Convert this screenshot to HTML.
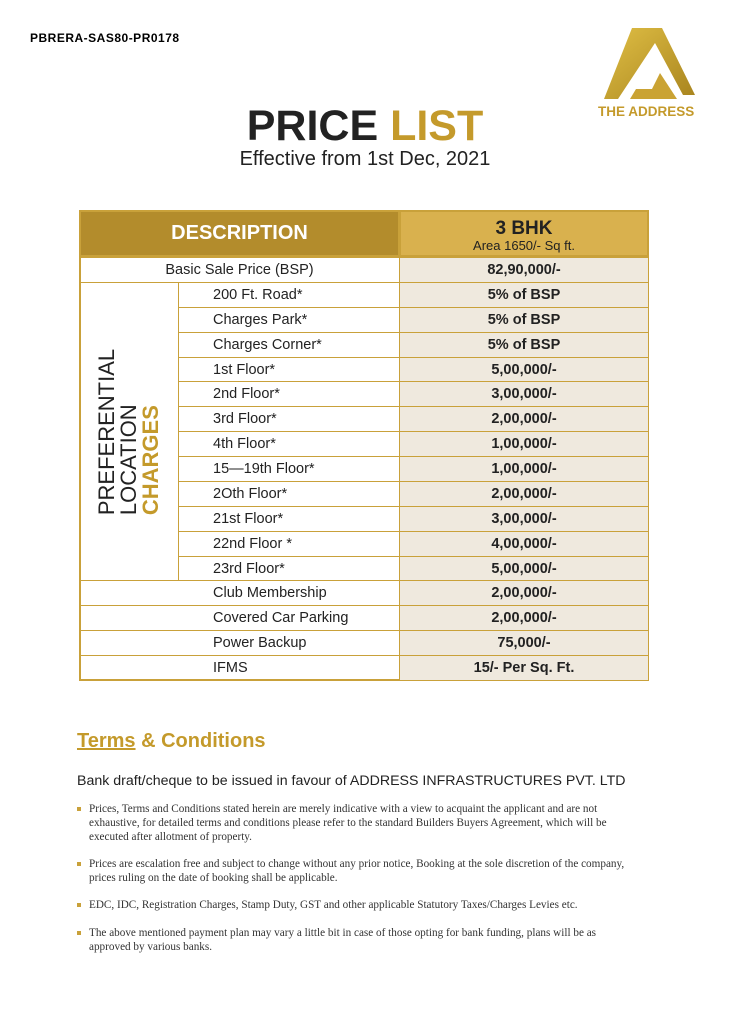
<!DOCTYPE html>
<html><head><meta charset="utf-8">
<style>
body{margin:0;width:730px;height:1024px;background:#fff;position:relative;font-family:"Liberation Sans",sans-serif;overflow:hidden}
.a{position:absolute}
.bul{position:absolute;left:77px;font-family:"Liberation Serif",serif;font-size:11.2px;line-height:14px;color:#333;width:536px;padding-left:12px}
.bul:before{content:"";position:absolute;left:0;top:5px;width:4px;height:4px;background:#c9a13a}
</style></head><body>
<div class="a" style="left:30px;top:31px;font-size:12px;font-weight:bold;letter-spacing:0.5px;font-family:'Liberation Sans Narrow','Liberation Sans',sans-serif">PBRERA-SAS80-PR0178</div>
<svg class="a" style="left:600px;top:25px" width="100" height="100" viewBox="0 0 100 100">
<defs><linearGradient id="g" x1="0" y1="0" x2="1" y2="1"><stop offset="0" stop-color="#e0bf45"/><stop offset="1" stop-color="#a8841e"/></linearGradient></defs>
<polygon points="32,3 62,3 95,70 83,70 55,18 18,74 4,74" fill="url(#g)"/>
<polygon points="60,48 77,74 50,74 30,74 36,64 52,64" fill="#caa334"/>
</svg>
<div class="a" style="left:598px;top:104px;font-size:13.5px;font-weight:bold;color:#c49a2b">THE ADDRESS</div>
<div class="a" style="left:0;width:730px;top:102px;text-align:center;font-size:43px;font-weight:bold;color:#222">PRICE <span style="color:#c49a2b">LIST</span></div>
<div class="a" style="left:0;width:730px;top:148px;text-align:center;font-size:20px;color:#222">Effective from 1st Dec, 2021</div>

<div id="tbl" class="a" style="left:79px;top:210px;width:570px;height:471px;border:2px solid #c9a13a;box-sizing:border-box"></div>

<div class="a" style="left:77px;top:730px;font-size:20px;font-weight:bold;color:#c49a2b"><span style="text-decoration:underline">Terms</span> &amp; Conditions</div>
<div class="a" style="left:77px;top:773px;font-size:14.2px;color:#222">Bank draft/cheque to be issued in favour of ADDRESS INFRASTRUCTURES PVT. LTD</div>
<div class="bul" style="top:802px">Prices, Terms and Conditions stated herein are merely indicative with a view to acquaint the applicant and are not exhaustive, for detailed terms and conditions please refer to the standard Builders Buyers Agreement, which will be executed after allotment of property.</div>
<div class="bul" style="top:857px">Prices are escalation free and subject to change without any prior notice, Booking at the sole discretion of the company, prices ruling on the date of booking shall be applicable.</div>
<div class="bul" style="top:898px">EDC, IDC, Registration Charges, Stamp Duty, GST and other applicable Statutory Taxes/Charges Levies etc.</div>
<div class="bul" style="top:926px;width:530px">The above mentioned payment plan may vary a little bit in case of those opting for bank funding, plans will be as approved by various banks.</div>

<script>
const labels=["Basic Sale Price (BSP)","200 Ft. Road*","Charges Park*","Charges Corner*","1st Floor*","2nd Floor*","3rd Floor*","4th Floor*","15\u201419th Floor*","2Oth Floor*","21st Floor*","22nd Floor *","23rd Floor*","Club Membership","Covered Car Parking","Power Backup","IFMS"];
const values=["82,90,000/-","5% of BSP","5% of BSP","5% of BSP","5,00,000/-","3,00,000/-","2,00,000/-","1,00,000/-","1,00,000/-","2,00,000/-","3,00,000/-","4,00,000/-","5,00,000/-","2,00,000/-","2,00,000/-","75,000/-","15/- Per Sq. Ft."];
const G="#c9a13a";
const body=document.body;
function box(name,l,t,w,h,css){const d=document.createElement('div');d.className='a';


d.style.cssText=`left:${l}px;top:${t}px;width:${w}px;height:${h}px;box-sizing:border-box;`+css;body.appendChild(d);return d;}
const h1=box('header-description',79,210,321,47,'background:#b38c2c;color:#fff;font-weight:bold;font-size:20px;display:flex;align-items:center;justify-content:center;border:2px solid '+G);
h1.textContent='DESCRIPTION';
const h2=box('header-3bhk',399,210,250,47,'background:#d9b14e;color:#222;text-align:center;border:2px solid '+G+';padding-top:7px');
h2.innerHTML='<div style="font-size:19px;font-weight:bold;line-height:19px">3 BHK</div><div style="font-size:13px;line-height:15px">Area 1650/- Sq ft.</div>';
const top0=257,rh=(680-257)/labels.length;
labels.forEach((lab,i)=>{
 const y=top0+i*rh;
 const pref=i>=1&&i<=12;
 const lx=pref?178:79;
 const c=box('row-label-'+i,lx,y,400-lx,rh+1,'border:1.5px solid '+G+';font-size:14.5px;color:#222;line-height:'+(rh+1)+'px;'+(i==0?'text-align:center':'padding-left:'+(212-lx)+'px'));
 c.textContent=lab;
 const v=box('row-value-'+i,399,y,250,rh+1,'background:#efe9de;border:1.5px solid '+G+';font-size:14.5px;font-weight:bold;color:#222;text-align:center;line-height:'+(rh+1)+'px');
 v.textContent=values[i];
});
const pb=box('preferential-location-cell',79,top0+rh,100,rh*12+1,'border:1.5px solid '+G);
const t=document.createElement('div');


t.style.cssText='position:absolute;left:50%;top:50%;transform:translate(-50%,-50%) rotate(-90deg);white-space:nowrap;font-size:22px;line-height:22px;color:#222;text-align:left';
t.innerHTML='PREFERENTIAL<br>LOCATION<br><b style="color:#c49a2b">CHARGES</b>';
pb.appendChild(t);
</script>
</body></html>
